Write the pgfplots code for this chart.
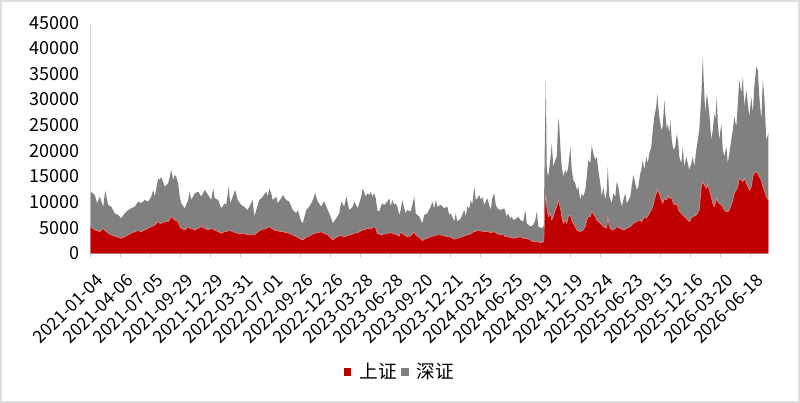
\documentclass[border=0pt]{standalone}
\usepackage{pgfplots}
\pgfplotsset{compat=1.18}
\usepackage{pgfplotstable}
\usepackage{fontspec}
\setmainfont{Noto Sans CJK SC}

\definecolor{shred}{RGB}{192,0,0}
\definecolor{szgray}{RGB}{128,128,128}
\definecolor{edgepink}{RGB}{232,150,150}

% d = trading day index from 2021-01-04, sh = 上证, sz = 深证
\pgfplotstableread{
d sh sz
0 5200 6825
8 4550 6825
13 4420 5330
18 4225 6825
25 4875 4225
29 4420 7800
35 3900 5525
41 3575 5525
48 3380 4420
55 3120 4355
61 2925 3900
68 3250 4550
75 3575 4875
81 3900 4875
88 4225 4875
95 4420 5655
101 4225 5525
108 4550 5850
115 4875 5200
121 5200 5850
125 5330 7020
128 5525 5525
135 6175 8450
138 5850 8450
141 5850 9100
148 6175 6825
155 6175 7475
161 7150 9100
165 6825 7475
168 6500 8775
171 6370 8580
175 6175 7475
178 5200 5850
181 4875 4875
188 4550 4225
195 5200 5200
198 4875 7150
201 4875 5525
208 4550 7150
215 4875 7150
221 5200 5850
228 4875 7475
235 4550 6825
241 4875 5525
245 4680 7995
248 4550 6175
255 4225 6175
261 3900 4875
268 4225 5525
271 4225 5200
276 4420 8580
279 4420 5330
284 4225 6825
289 4030 8320
294 3900 6500
301 3770 5655
307 3900 5200
314 3575 4875
319 3575 5850
324 3575 6825
327 3575 3575
331 3900 4550
337 4420 5980
344 4680 6370
351 4875 7150
354 5005 6045
357 5200 7475
361 4940 6760
364 4680 5720
371 4420 6630
374 4355 5395
381 4225 6500
384 4225 7150
391 4030 6370
397 3900 6175
404 3575 4875
411 3250 4550
414 3120 5330
421 2730 3445
424 2600 3250
431 3120 5330
437 3380 5720
441 3575 6175
444 3770 6630
449 3900 7800
454 4030 6045
461 4160 4940
464 4030 5720
467 3900 6175
474 3575 4875
481 2925 3900
484 2600 3250
491 3120 3705
497 3380 4420
501 3380 6695
507 3250 5850
511 3380 7670
517 3575 4875
524 3770 5330
527 3900 6175
534 4030 4745
541 4420 6630
544 4550 8125
550 4680 6370
553 4875 6825
557 4810 6565
560 4745 7280
563 5005 6045
567 5200 6500
570 4875 5850
573 3900 4550
577 3770 4355
580 3575 5525
583 3640 6110
587 3770 5655
593 3900 6175
597 3965 6760
600 4030 5070
603 3900 6500
607 3770 5655
610 3705 6045
613 3575 5525
617 3380 4095
620 4225 4225
623 3900 6500
627 3575 5200
630 3380 4420
633 3250 5200
640 3380 4745
647 4225 6825
650 3575 4225
657 3120 4030
663 2470 3380
667 2730 4745
673 2925 4875
680 3250 5850
683 3315 6760
687 3380 5395
690 3510 6890
693 3575 5525
700 3575 5850
707 3380 5395
713 3250 5850
717 3185 4290
720 3120 4680
727 2730 3445
730 2860 4940
733 2925 3250
740 3120 3705
747 3380 5070
750 3510 3640
753 3575 5525
757 3705 5070
760 3770 6630
763 4030 5395
767 4225 8775
770 4290 6110
773 4420 6305
777 4420 6955
780 4355 6045
783 4290 6760
787 4225 5200
793 4225 6500
797 4160 5265
800 4030 4420
803 4095 6630
807 4225 7475
810 4030 5395
813 3770 5005
820 3575 4875
827 3575 5200
829 3250 4875
832 3250 3900
835 3185 4615
839 3120 3705
842 3055 4095
845 2925 3575
852 3055 3770
855 3120 4030
859 3250 3250
865 2925 3250
869 2925 5525
872 2925 2925
879 2600 2600
885 2275 3250
889 2275 4225
892 2275 5850
895 2210 2990
902 2080 2795
905 2275 2925
906 2275 3125
908 8450 12350
910 11700 22100
912 9100 7150
915 7150 7800
919 7800 10400
922 6500 14950
925 7150 9750
929 8450 9750
932 9100 9750
935 10400 15925
937 9750 14950
940 8450 11050
942 7150 9750
945 5850 9100
949 6500 9750
952 5850 9750
955 7150 9750
959 7475 13325
962 6500 9750
965 5850 8450
969 5200 8450
972 4550 7800
975 4420 8580
979 4225 6175
982 4420 7280
985 4550 6500
989 5200 7150
992 6500 8450
995 7150 11050
999 7150 10400
1002 8125 13000
1005 7800 11700
1009 7150 11050
1012 6500 12350
1015 6175 10075
1019 5850 7800
1022 5525 5525
1025 5200 7800
1029 5005 5395
1032 4875 7475
1034 7150 9750
1037 5200 5850
1042 4550 5200
1045 4550 7150
1049 4875 6175
1052 5200 8775
1055 5070 7930
1059 4875 5525
1062 4680 4420
1065 4550 5850
1069 4680 7020
1072 4875 4875
1079 5200 5850
1085 5850 9425
1089 5980 7670
1092 6175 6175
1095 6370 6630
1099 6500 9100
1101 6175 10075
1104 6500 11700
1107 7150 9100
1111 6825 12025
1114 7280 10270
1117 7800 11700
1121 8450 12350
1124 9100 14950
1127 10400 16250
1131 11700 16900
1133 12480 18720
1135 12025 16575
1137 11700 14950
1141 10400 13650
1144 9750 14950
1147 10725 19175
1149 10530 16770
1152 10400 13650
1154 11375 13975
1157 10725 12675
1159 10920 15080
1162 10725 11375
1165 9750 10400
1169 9425 11375
1172 9750 13650
1175 8775 12675
1177 8125 10725
1181 7800 9750
1184 7475 13325
1187 7150 9750
1191 6825 12025
1194 6500 11050
1197 6175 10075
1201 6825 10725
1204 7150 11700
1207 7280 9620
1211 7475 12675
1214 7930 14170
1217 8450 15600
1221 13000 17550
1224 13975 24375
1226 13520 19630
1229 13000 14300
1232 12675 18525
1234 13650 16250
1237 12350 14950
1241 11050 11050
1244 9750 14300
1247 9100 18200
1249 9750 16250
1252 10725 19825
1254 10075 15275
1257 9750 12350
1261 9425 15925
1264 9100 11050
1267 8450 10400
1271 8125 12675
1274 8125 9425
1277 8450 11050
1281 9425 12675
1284 10400 13650
1287 11700 14950
1291 12350 12350
1294 13000 16250
1297 14625 19175
1301 14300 16900
1304 13975 20475
1307 14625 13975
1311 13650 18200
1314 13000 16250
1317 12350 14300
1321 13000 17550
1324 14950 12350
1327 15600 16900
1331 15925 20475
1334 15600 20150
1337 14950 15600
1341 14300 11700
1344 13000 20800
1347 12350 18200
1351 11050 11050
1355 10400 13000
}\turnover

\begin{document}
\begin{tikzpicture}
% light frame round the whole picture (800 x 403 px at 0.75pt per px)
\draw[gray!25, line width=1.5pt] (0.75pt,0.75pt) rectangle (599.25pt,301.5pt);
\begin{axis}[
    at={(68.03pt,112.28pt)}, anchor=south west,
    scale only axis,
    width=508.2pt, height=172.95pt,
    xmin=0, xmax=1355,
    ymin=0, ymax=45000,
    axis x line*=bottom,
    axis y line*=left,
    axis line style={draw=gray!30, line width=0.6pt},
    xtick={0,60,...,1320},
    xticklabels={2021-01-04,2021-04-06,2021-07-05,2021-09-29,2021-12-29,2022-03-31,2022-07-01,2022-09-26,2022-12-26,2023-03-28,2023-06-28,2023-09-20,2023-12-21,2024-03-25,2024-06-25,2024-09-19,2024-12-19,2025-03-24,2025-06-23,2025-09-15,2025-12-16,2026-03-20,2026-06-18},
    tick align=outside,
    major tick length=3pt,
    xtick style={draw=gray!40, line width=0.6pt},
    ytick={0,5000,...,45000},
    ytick style={draw=none},
    scaled y ticks=false,
    /pgf/number format/1000 sep={},
    /pgf/number format/assume math mode=true,
    yticklabel style={font=\fontsize{13.5}{16}\selectfont, xshift=-2pt},
    xticklabel style={rotate=45, anchor=north east, font=\fontsize{13}{15}\selectfont, xshift=-2.5pt, yshift=-7pt},
    legend style={at={(0.4565,-0.515)}, anchor=center, draw=none, fill=none,
        legend columns=-1, font=\fontsize{14}{16}\selectfont,
        /tikz/every odd column/.append style={column sep=4.5pt},
        /tikz/every even column/.append style={column sep=2pt},
        nodes={inner sep=1.5pt}},
    legend image code/.code={\fill[#1] (0pt,-3pt) rectangle (5.5pt,3pt);},
]
\addlegendimage{fill=shred, draw=none}
\addlegendentry{上证}
\addlegendimage{fill=szgray, draw=none}
\addlegendentry{深证}

\addplot[fill=szgray, draw=none, forget plot]
    table[x=d, y expr=\thisrow{sh}+\thisrow{sz}] {\turnover} \closedcycle;
\addplot[fill=shred, draw=none, forget plot]
    table[x=d, y=sh] {\turnover} \closedcycle;
\addplot[edgepink, line width=0.4pt, forget plot]
    table[x=d, y=sh] {\turnover};
\end{axis}
\end{tikzpicture}
\end{document}
